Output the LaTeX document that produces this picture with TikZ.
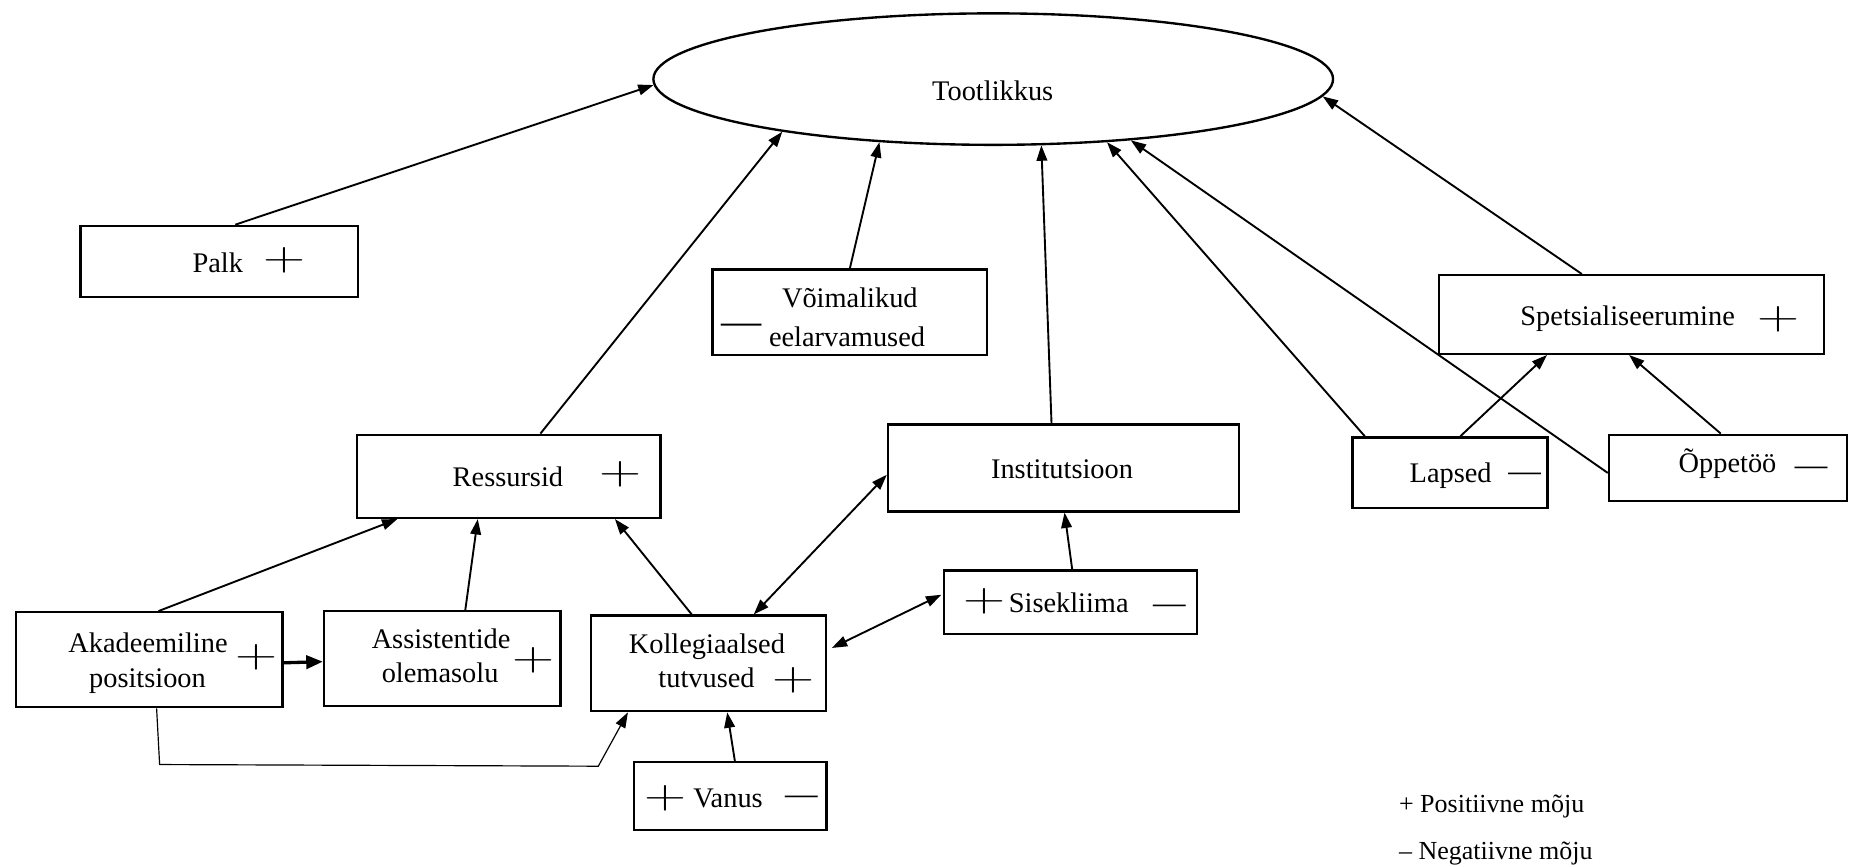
\documentclass[tikz,border=0pt]{standalone}
\usepackage{fontspec}
\usepackage{graphicx}
\setmainfont{Liberation Serif}
\usetikzlibrary{arrows.meta,shapes.geometric,fit}
\newcommand\pls{\scalebox{1.43}[1]{\fontfamily{lmr}\fontsize{17.25}{17.25}\selectfont +}}
\newcommand\dsh[1]{{\fontsize{#1}{#1}\selectfont —}}
\tikzset{
  box/.style={draw, line width=1pt, rectangle, inner sep=0pt},
  txt/.style={inner sep=0pt, font=\fontsize{12}{14}\selectfont},
  leg/.style={inner sep=0pt, font=\fontsize{11}{13}\selectfont, anchor=base west},
  sgn/.style={inner sep=0pt},
  arr/.style={line width=0.8pt, -{Triangle[length=6.5pt,width=4.5pt]}},
  darr/.style={line width=0.8pt, {Triangle[length=6.5pt,width=4.5pt]}-{Triangle[length=6.5pt,width=4.5pt]}},
  thickarr/.style={line width=1.4pt, -{Triangle[length=7pt,width=5.6pt]}},
  thinarr/.style={line width=0.5pt, -{Triangle[length=6.5pt,width=4.5pt]}}
}
\begin{document}
\begin{tikzpicture}[x=0.5pt, y=-0.5pt]
\useasboundingbox (0,0) rectangle (1568,733);

% ellipse
\node[draw, ellipse, line width=1pt, minimum width=287.4pt, minimum height=55.6pt, inner sep=0pt] (tl) at (840,66.9) {};
\node[txt, anchor=base west] (ttl) at (788,85.4) {Tootlikkus};

% boxes
\node[box, fit={(68,191) (303,251)}] (palk) {};
\node[box, fit={(602.5,228) (835,300)}] (voim) {};
\node[box, fit={(302,367.7) (558.5,438)}] (res) {};
\node[box, fit={(751,359) (1047.8,432.5)}] (inst) {};
\node[box, fit={(1217,232.7) (1542.5,299.2)}] (spets) {};
\node[box, fit={(1143.8,370) (1308.8,429.7)}] (lap) {};
\node[box, fit={(1360.8,367.7) (1561.8,423.5)}] (opp) {};
\node[box, fit={(13.5,517.8) (239,598.1)}] (akad) {};
\node[box, fit={(274,517) (474,597)}] (assist) {};
\node[box, fit={(500,520.7) (698.5,601.5)}] (koll) {};
\node[box, fit={(798.3,482.6) (1012.3,536.2)}] (sise) {};
\node[box, fit={(536,644.6) (699,702.1)}] (vanus) {};

% texts
\node[txt, anchor=base west] (tpalk) at (162.5,230.5) {Palk};
\node[sgn] (ppalk) at (240.5,220) {\pls};
\node[txt, anchor=base west] (tvoim1) at (661,260) {Võimalikud};
\node[sgn, anchor=north] (dvoim) at (627.5,274) {\dsh{17}};
\node[txt, anchor=base west] (tvoim2) at (650,293) {eelarvamused};
\node[txt, anchor=base west] (tres) at (382.5,411.4) {Ressursid};
\node[sgn] (pres) at (525,400.8) {\pls};
\node[txt, anchor=base west] (tinst) at (837.8,404.3) {Institutsioon};
\node[txt, anchor=base west] (tspets) at (1285.5,275) {Spetsialiseerumine};
\node[sgn] (pspets) at (1504,270) {\pls};
\node[txt, anchor=base west] (tlap) at (1191.8,408) {Lapsed};
\node[sgn, anchor=north] (dlap) at (1289.5,399.5) {\dsh{13.75}};
\node[txt, anchor=base west] (topp) at (1419.3,400) {Õppetöö};
\node[sgn, anchor=north] (dopp) at (1531.8,394.5) {\dsh{13.75}};
\node[txt, anchor=base west] (takad1) at (57.5,551.6) {Akadeemiline};
\node[txt, anchor=base west] (takad2) at (75,581.8) {positsioon};
\node[sgn] (pakad) at (216.8,556) {\pls};
\node[txt, anchor=base west] (tass1) at (314,548.8) {Assistentide};
\node[txt, anchor=base west] (tass2) at (322.5,577) {olemasolu};
\node[sgn] (pass) at (450.8,558.5) {\pls};
\node[txt, anchor=base west] (tkoll1) at (531.5,552.8) {Kollegiaalsed};
\node[txt, anchor=base west] (tkoll2) at (556.5,581.8) {tutvused};
\node[sgn] (pkoll) at (671,575) {\pls};
\node[sgn] (psise) at (832.3,508.5) {\pls};
\node[txt, anchor=base west] (tsise) at (852.8,518.4) {Sisekliima};
\node[sgn, anchor=north] (dsise) at (989,511.3) {\dsh{13.75}};
\node[sgn] (pvanus) at (563,675) {\pls};
\node[txt, anchor=base west] (tvanus) at (586,683) {Vanus};
\node[sgn, anchor=north] (dvanus) at (677.8,672.7) {\dsh{13.75}};

% legend
\node[leg] (leg1) at (1182.8,687.4) {+ Positiivne mõju};
\node[leg] (leg2) at (1182.8,726.9) {– Negatiivne mõju};

% connectors to ellipse
\draw[arr] ([xshift=6.75pt]palk.north) -- (tl.181);
\draw[arr] ([xshift=13.4pt]res.north) -- (tl.194.35);
\draw[arr] (voim.north) -- (tl.209.7);
\draw[arr] ([xshift=-5.05pt]inst.north) -- (tl.306.9);
\draw[arr] ([xshift=-36pt]lap.north) -- (tl.331);
\draw[arr] ([yshift=-2.2pt]opp.west) -- (tl.336.3);
\draw[arr] ([xshift=-21pt]spets.north) -- (tl.357);

% to Spetsialiseerumine
\draw[arr] ([xshift=4.35pt]lap.north) -- ([xshift=-35.7pt]spets.south);
\draw[arr] ([xshift=-3pt]opp.north) -- ([xshift=-1pt]spets.south);

% to Ressursid
\draw[arr] ([xshift=3.9pt]akad.north) -- ([xshift=-47.1pt]res.south);
\draw[arr] ([xshift=9.75pt]assist.north) -- ([xshift=-13.1pt]res.south);
\draw[arr] ([xshift=-7.1pt]koll.north) -- ([xshift=44.9pt]res.south);

% Kollegiaalsed relations
\draw[darr] ([xshift=19.1pt]koll.north) -- ([yshift=-2.9pt]inst.west);
\draw[darr] ([yshift=6.55pt,xshift=2pt]koll.east) -- ([yshift=3.2pt,xshift=-0.6pt]sise.west);
\draw[arr] ([xshift=0.75pt]sise.north) -- ([xshift=0.45pt]inst.south);
\draw[arr] ([xshift=2pt]vanus.north) -- ([xshift=7.9pt]koll.south);

% Akadeemiline
\draw[thickarr] ([yshift=-1.3pt]akad.east) -- ([yshift=-1.3pt]assist.west);
\coordinate (e1) at (135,646.6);
\coordinate (e2) at (506,648);
\draw[thinarr] ([xshift=3.1pt]akad.south) -- (e1) -- (e2) -- ([xshift=-34.1pt]koll.south);
\end{tikzpicture}
\end{document}
